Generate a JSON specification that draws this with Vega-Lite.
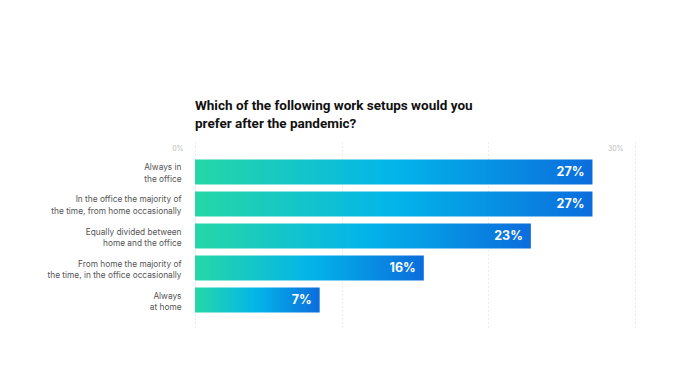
{
  "$schema": "https://vega.github.io/schema/vega-lite/v6.json",
  "autosize": "none",
  "width": 440,
  "height": 188,
  "padding": {"left": 195, "top": 142, "right": 43, "bottom": 61},
  "background": "white",
  "title": {
    "text": ["Which of the following work setups would you", "prefer after the pandemic?"],
    "anchor": "start",
    "frame": "group",
    "font": "Roboto",
    "fontSize": 13.5,
    "fontWeight": "bold",
    "color": "#111111",
    "lineHeight": 18,
    "offset": 12
  },
  "data": {
    "values": [
      {"setup": "Always in|the office", "value": 27.1, "label": "27%"},
      {"setup": "In the office the majority of|the time, from home occasionally", "value": 27.1, "label": "27%"},
      {"setup": "Equally divided between|home and the office", "value": 22.9, "label": "23%"},
      {"setup": "From home the majority of|the time, in the office occasionally", "value": 15.6, "label": "16%"},
      {"setup": "Always|at home", "value": 8.5, "label": "7%"}
    ]
  },
  "encoding": {
    "y": {
      "field": "setup",
      "type": "nominal",
      "sort": null,
      "scale": {"paddingInner": 0.22, "paddingOuter": 0.547},
      "axis": {
        "title": null,
        "domain": false,
        "ticks": false,
        "labelExpr": "split(datum.label, '|')",
        "labelAlign": "right",
        "labelBaseline": "middle",
        "labelOffset": -3.5,
        "labelFont": "Inter",
        "labelFontSize": 8.3,
        "labelColor": "#555555",
        "labelLineHeight": 11.5,
        "labelPadding": 14,
        "labelLimit": 300
      }
    },
    "x": {
      "field": "value",
      "type": "quantitative",
      "scale": {"domain": [0, 30], "nice": false},
      "axis": {
        "orient": "top",
        "title": null,
        "domain": false,
        "ticks": false,
        "tickSize": 0,
        "values": [0, 10, 20, 30],
        "labelExpr": "datum.value == 0 || datum.value == 30 ? datum.value + '%' : ''",
        "labelAlign": "right",
        "labelBaseline": "middle",
        "labelOffset": -12,
        "labelPadding": -6,
        "labelFont": "Inter",
        "labelFontSize": 7,
        "labelColor": "#bbbbbb",
        "grid": true,
        "gridColor": "#d8d8d8",
        "gridDash": [1, 3],
        "gridWidth": 1
      }
    }
  },
  "layer": [
    {
      "mark": {
        "type": "bar",
        "fill": {
          "gradient": "linear",
          "x1": 0, "y1": 0, "x2": 1, "y2": 0,
          "stops": [
            {"offset": 0, "color": "#26d7a6"},
            {"offset": 0.5, "color": "#03b5e9"},
            {"offset": 1, "color": "#0b6ddd"}
          ]
        }
      }
    },
    {
      "mark": {
        "type": "text",
        "align": "right",
        "baseline": "middle",
        "dx": -8,
        "font": "Inter",
        "fontSize": 12.5,
        "fontWeight": "bold",
        "color": "white"
      },
      "encoding": {"text": {"field": "label"}}
    }
  ],
  "config": {"view": {"stroke": null}}
}
